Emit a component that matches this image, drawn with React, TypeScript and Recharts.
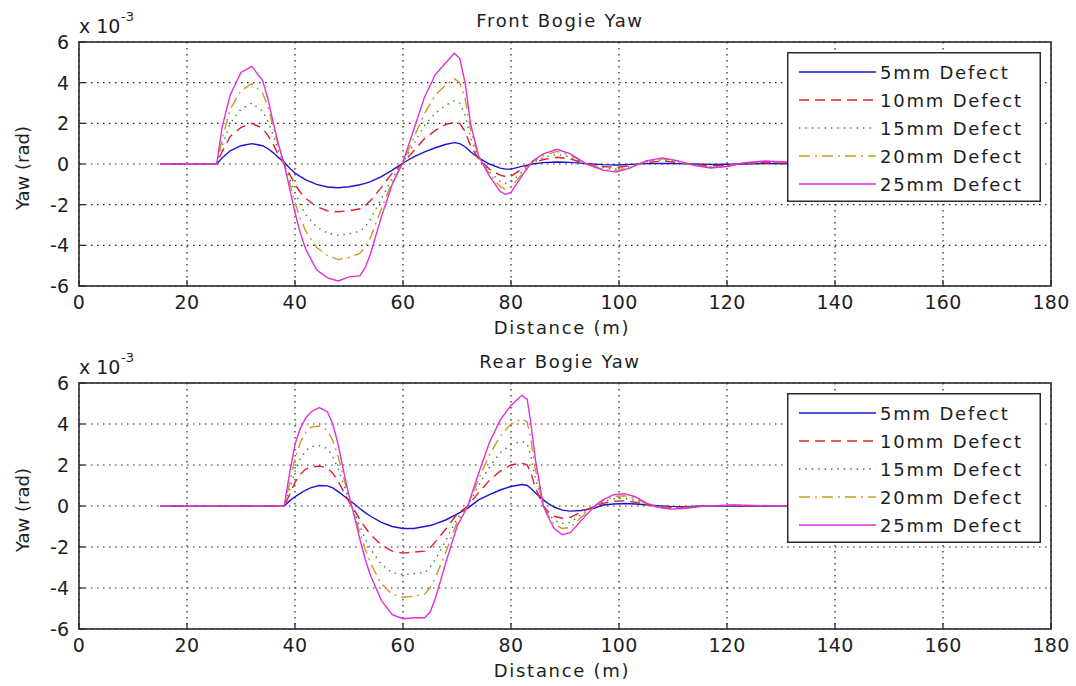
import React from 'react';
import { LineChart, Line, XAxis, YAxis, CartesianGrid, Legend, Label } from 'recharts';

// ---- data (yaw in units of 1e-3 rad) ----
const frontDistance = [15, 25.5, 26.5, 28, 30, 32, 34, 35, 36, 37, 38, 39, 40, 41, 42, 44, 46, 48, 50, 52, 53, 54, 56, 58, 60, 62, 64, 66, 68, 69.5, 70.5, 71.5, 72.5, 74, 76, 78, 79, 80, 82, 84, 86, 88.5, 91, 94, 97, 99.5, 102, 105, 108, 111, 114, 117, 120, 123, 127, 131, 135, 140];
const front5mm = [0, 0, 0.3, 0.65, 0.9, 1.0, 0.9, 0.75, 0.55, 0.3, 0.08, -0.2, -0.45, -0.62, -0.78, -1.0, -1.13, -1.17, -1.12, -1.02, -0.95, -0.87, -0.62, -0.3, 0.05, 0.35, 0.6, 0.8, 0.97, 1.05, 1.0, 0.85, 0.6, 0.3, 0.0, -0.2, -0.25, -0.25, -0.12, 0.0, 0.07, 0.1, 0.08, 0.02, -0.03, -0.05, -0.02, 0.02, 0.03, 0.02, 0, -0.02, -0.01, 0, 0.02, 0.01, 0, 0];
const front10mm = [0, 0, 0.6, 1.35, 1.8, 2.0, 1.75, 1.4, 0.95, 0.4, 0.0, -0.5, -1.0, -1.4, -1.7, -2.1, -2.3, -2.35, -2.3, -2.2, -2.05, -1.8, -1.15, -0.45, 0.05, 0.65, 1.25, 1.65, 1.95, 2.05, 2.0, 1.6, 0.9, 0.25, -0.25, -0.55, -0.62, -0.6, -0.25, 0.05, 0.22, 0.33, 0.25, 0.0, -0.12, -0.17, -0.08, 0.07, 0.14, 0.07, -0.03, -0.09, -0.05, 0.02, 0.07, 0.05, 0.01, 0];
const front15mm = [0, 0, 0.9, 2.0, 2.7, 3.0, 2.6, 2.1, 1.4, 0.6, 0.0, -0.7, -1.4, -2.0, -2.5, -3.1, -3.4, -3.5, -3.45, -3.3, -3.1, -2.7, -1.7, -0.7, 0.05, 1.0, 1.9, 2.5, 2.9, 3.1, 3.0, 2.4, 1.3, 0.3, -0.4, -0.85, -0.95, -0.9, -0.4, 0.05, 0.32, 0.48, 0.35, 0.0, -0.18, -0.25, -0.13, 0.1, 0.2, 0.1, -0.05, -0.13, -0.08, 0.03, 0.1, 0.07, 0.01, 0];
const front20mm = [0, 0, 1.2, 2.7, 3.6, 3.95, 3.5, 2.8, 1.8, 0.8, 0.0, -0.9, -1.9, -2.7, -3.3, -4.1, -4.5, -4.7, -4.6, -4.4, -4.1, -3.6, -2.2, -0.9, 0.05, 1.3, 2.5, 3.4, 3.9, 4.2, 4.0, 3.2, 1.7, 0.35, -0.5, -1.1, -1.25, -1.15, -0.5, 0.1, 0.42, 0.62, 0.45, 0.0, -0.25, -0.33, -0.17, 0.12, 0.25, 0.12, -0.06, -0.17, -0.1, 0.04, 0.12, 0.08, 0.02, 0];
const front25mm = [0, 0, 1.8, 3.4, 4.5, 4.8, 4.1, 3.2, 2.0, 0.9, 0.0, -1.2, -2.4, -3.4, -4.2, -5.2, -5.6, -5.75, -5.55, -5.5, -5.1, -4.4, -2.6, -1.0, 0.1, 1.7, 3.3, 4.4, 5.0, 5.45, 5.2, 4.0, 2.0, 0.4, -0.6, -1.35, -1.5, -1.4, -0.6, 0.15, 0.5, 0.72, 0.5, 0.0, -0.3, -0.4, -0.2, 0.15, 0.3, 0.15, -0.08, -0.2, -0.12, 0.05, 0.15, 0.1, 0.02, 0];

const rearDistance = [15, 38, 39, 40, 41, 42, 43, 44.5, 46, 47, 48, 49, 50, 51, 52, 53, 54, 56, 58, 60, 62, 64, 65, 66, 68, 70, 72, 74, 76, 78, 80, 82, 83, 83.7, 84.5, 86, 87, 88, 89.5, 91, 93, 95.5, 97, 99, 101, 103, 105, 107, 109.5, 112, 115, 118, 121, 125, 130, 135, 140];
const rear5mm = [0, 0, 0.25, 0.45, 0.62, 0.78, 0.9, 1.0, 0.98, 0.88, 0.7, 0.5, 0.3, 0.1, -0.12, -0.32, -0.5, -0.8, -1.0, -1.1, -1.1, -1.0, -0.95, -0.87, -0.67, -0.4, -0.1, 0.3, 0.55, 0.78, 0.95, 1.05, 1.0, 0.85, 0.65, 0.3, 0.1, -0.05, -0.2, -0.25, -0.22, -0.1, 0.05, 0.1, 0.12, 0.1, 0.06, 0.02, -0.02, -0.03, -0.01, 0, 0.01, 0, 0, 0, 0];
const rear10mm = [0, 0, 0.55, 1.15, 1.55, 1.8, 1.9, 1.95, 1.85, 1.6, 1.2, 0.7, 0.2, -0.2, -0.65, -1.05, -1.4, -1.9, -2.2, -2.3, -2.25, -2.2, -2.05, -1.75, -1.1, -0.4, 0, 0.65, 1.25, 1.7, 2.0, 2.1, 2.0, 1.6, 0.9, 0, -0.3, -0.5, -0.6, -0.55, -0.3, 0, 0.13, 0.23, 0.25, 0.18, 0.06, -0.02, -0.06, -0.05, -0.01, 0.01, 0.02, 0.01, 0, 0, 0];
const rear15mm = [0, 0, 0.8, 1.7, 2.3, 2.7, 2.9, 2.95, 2.8, 2.4, 1.8, 1.05, 0.3, -0.3, -1.0, -1.6, -2.1, -2.85, -3.25, -3.35, -3.3, -3.25, -3.0, -2.6, -1.65, -0.6, 0, 1.0, 1.9, 2.6, 3.0, 3.15, 3.05, 2.4, 1.35, 0, -0.4, -0.7, -0.85, -0.8, -0.42, 0, 0.2, 0.35, 0.38, 0.28, 0.09, -0.03, -0.09, -0.08, -0.02, 0.01, 0.03, 0.01, 0, 0, 0];
const rear20mm = [0, 0, 1.1, 2.3, 3.1, 3.6, 3.85, 3.9, 3.7, 3.2, 2.4, 1.4, 0.4, -0.4, -1.3, -2.1, -2.8, -3.8, -4.3, -4.45, -4.4, -4.3, -4.0, -3.5, -2.2, -0.8, 0, 1.3, 2.5, 3.4, 4.0, 4.25, 4.1, 3.2, 1.8, 0, -0.5, -0.9, -1.1, -1.05, -0.55, 0, 0.25, 0.45, 0.5, 0.37, 0.12, -0.04, -0.12, -0.1, -0.02, 0.02, 0.04, 0.02, 0, 0, 0];
const rear25mm = [0, 0, 1.6, 3.0, 3.8, 4.3, 4.6, 4.8, 4.6, 4.0, 3.0, 1.7, 0.5, -0.5, -1.6, -2.6, -3.4, -4.6, -5.3, -5.5, -5.45, -5.45, -5.2, -4.5, -2.7, -1.0, 0, 1.6, 3.1, 4.2, 4.9, 5.4, 5.2, 4.0, 2.3, 0, -0.6, -1.1, -1.4, -1.3, -0.7, 0, 0.3, 0.55, 0.6, 0.45, 0.15, -0.05, -0.15, -0.12, -0.03, 0.02, 0.05, 0.03, 0, 0, 0];

const xTicks = [0, 20, 40, 60, 80, 100, 120, 140, 160, 180];
const yTicks = [-6, -4, -2, 0, 2, 4, 6];
const seriesNames = ['5mm Defect', '10mm Defect', '15mm Defect', '20mm Defect', '25mm Defect'];
const seriesKeys = ['s5', 's10', 's15', 's20', 's25'];

// ---- styles ----
const FONT = '"DejaVu Sans", "Liberation Sans", Arial, sans-serif';
const INK = '#1e1e1e';
const FRAME = '#2b2b2b';
const seriesStyles = [
  { color: '#1616d2', dash: undefined },
  { color: '#e0202a', dash: '10 6' },
  { color: '#1e8c1e', dash: '1.4 5' },
  { color: '#c99a22', dash: '11 5 2 5' },
  { color: '#e02ee0', dash: undefined },
];

const buildRows = (xs: number[], series: number[][]) =>
  xs.map((d, i) => {
    const row: Record<string, number> = { d };
    seriesKeys.forEach((k, j) => {
      row[k] = series[j][i];
    });
    return row;
  });

const frontRows = buildRows(frontDistance, [front5mm, front10mm, front15mm, front20mm, front25mm]);
const rearRows = buildRows(rearDistance, [rear5mm, rear10mm, rear15mm, rear20mm, rear25mm]);

const W = 1076;
const H = 343;
const PLOT_LEFT = 79;
const PLOT_RIGHT = 1051;
const PLOT_BOTTOM = 286;
const TICK = 6;

const XTick = (p: any) => {
  const cx = p.payload.coordinate ?? p.x;
  return (
    <g>
      <line x1={cx} x2={cx} y1={PLOT_BOTTOM} y2={PLOT_BOTTOM - TICK} stroke={FRAME} strokeWidth={1.3} />
      <text x={cx} y={PLOT_BOTTOM + 23} textAnchor="middle" fontSize={19} fontFamily={FONT} fill={INK} letterSpacing={0.3}>
        {p.payload.value}
      </text>
    </g>
  );
};
const makeTopTick = (plotTop: number) => (p: any) => {
  const cx = p.payload.coordinate ?? p.x;
  return <line x1={cx} x2={cx} y1={plotTop} y2={plotTop + TICK} stroke={FRAME} strokeWidth={1.3} />;
};
const YTick = (p: any) => {
  const cy = p.payload.coordinate ?? p.y;
  return (
    <g>
      <line x1={PLOT_LEFT} x2={PLOT_LEFT + TICK} y1={cy} y2={cy} stroke={FRAME} strokeWidth={1.3} />
      <text x={PLOT_LEFT - 10} y={cy} dy={7} textAnchor="end" fontSize={19} fontFamily={FONT} fill={INK}>
        {p.payload.value}
      </text>
    </g>
  );
};
const RightTick = (p: any) => {
  const cy = p.payload.coordinate ?? p.y;
  return <line x1={PLOT_RIGHT} x2={PLOT_RIGHT - TICK} y1={cy} y2={cy} stroke={FRAME} strokeWidth={1.3} />;
};

const LegendBox = () => (
  <svg width={254} height={150} style={{ display: 'block' }}>
    <rect x={0.75} y={0.75} width={252.5} height={148.5} fill="#fff" stroke={FRAME} strokeWidth={1.5} />
    {seriesNames.map((name, i) => {
      const cy = 20 + i * 28;
      const s = seriesStyles[i];
      return (
        <g key={name}>
          <line x1={12} x2={89} y1={cy} y2={cy} stroke={s.color} strokeWidth={1.5} strokeDasharray={s.dash} />
          <text x={93} y={cy + 6.5} fontSize={18} fontFamily={FONT} fill={INK} letterSpacing={1.8}>
            {name}
          </text>
        </g>
      );
    })}
  </svg>
);

function Panel({ title, rows, plotTop, top }: { title: string; rows: any[]; plotTop: number; top: number }) {
  const plotMidY = (plotTop + PLOT_BOTTOM) / 2;
  const midX = (PLOT_LEFT + PLOT_RIGHT) / 2;
  return (
    <div style={{ position: 'absolute', left: 0, top, width: W, height: H }}>
      <LineChart width={W} height={H} data={rows} margin={{ top: plotTop, right: 25, bottom: 17, left: 19 }}>
        <CartesianGrid stroke="#222" strokeWidth={1.2} strokeDasharray="1.5 4.5" />
        <XAxis
          dataKey="d"
          type="number"
          domain={[0, 180]}
          ticks={xTicks}
          interval={0}
          height={40}
          axisLine={false}
          tickLine={false}
          tick={(p: any) => <XTick {...p} />}
          allowDataOverflow
        >
          <Label
            content={() => (
              <g>
                <rect
                  x={PLOT_LEFT}
                  y={plotTop}
                  width={PLOT_RIGHT - PLOT_LEFT}
                  height={PLOT_BOTTOM - plotTop}
                  fill="none"
                  stroke={FRAME}
                  strokeWidth={1.6}
                />
                <text x={midX - 3} y={PLOT_BOTTOM + 47.5} textAnchor="middle" fontSize={18} fontFamily={FONT} fill={INK} letterSpacing={1.7}>
                  Distance (m)
                </text>
                <text x={midX - 5} y={plotTop - 15} textAnchor="middle" fontSize={18} fontFamily={FONT} fill={INK} letterSpacing={1.7}>
                  {title}
                </text>
                <text x={79} y={plotTop - 9} fontSize={19} fontFamily={FONT} fill={INK}>
                  x 10
                </text>
                <text x={121} y={plotTop - 21} fontSize={13} fontFamily={FONT} fill={INK}>
                  -3
                </text>
              </g>
            )}
          />
        </XAxis>
        <XAxis
          xAxisId="t"
          orientation="top"
          type="number"
          domain={[0, 180]}
          ticks={xTicks}
          interval={0}
          height={0}
          axisLine={false}
          tickLine={false}
          tick={makeTopTick(plotTop)}
        />
        <YAxis
          type="number"
          domain={[-6, 6]}
          ticks={yTicks}
          interval={0}
          width={60}
          axisLine={false}
          tickLine={false}
          tick={(p: any) => <YTick {...p} />}
          allowDataOverflow
        >
          <Label
            content={() => (
              <text
                x={22}
                y={plotMidY + 4}
                dy={6.5}
                transform={`rotate(-90, 22, ${plotMidY + 4})`}
                textAnchor="middle"
                fontSize={18}
                fontFamily={FONT}
                fill={INK}
              >
                Yaw (rad)
              </text>
            )}
          />
        </YAxis>
        <YAxis
          yAxisId="r"
          orientation="right"
          type="number"
          domain={[-6, 6]}
          ticks={yTicks}
          interval={0}
          width={0}
          axisLine={false}
          tickLine={false}
          tick={(p: any) => <RightTick {...p} />}
        />
        {seriesKeys.map((k, i) => (
          <Line
            key={k}
            dataKey={k}
            name={seriesNames[i]}
            type="linear"
            stroke={seriesStyles[i].color}
            strokeDasharray={seriesStyles[i].dash}
            strokeWidth={1.4}
            dot={false}
            activeDot={false}
            isAnimationActive={false}
          />
        ))}
        <Legend
          layout="horizontal"
          verticalAlign="middle"
          align="center"
          content={() => <LegendBox />}
          wrapperStyle={{ left: 787, top: plotTop + 10, width: 254, height: 150, right: 'auto', bottom: 'auto', background: '#fff' }}
        />
      </LineChart>
    </div>
  );
}

export default function App() {
  return (
    <div style={{ position: 'absolute', left: 0, top: 0, width: W, height: 686, background: '#fff' }}>
      <Panel title="Front Bogie Yaw" rows={frontRows} plotTop={42} top={0} />
      <Panel title="Rear Bogie Yaw" rows={rearRows} plotTop={40} top={343} />
    </div>
  );
}
